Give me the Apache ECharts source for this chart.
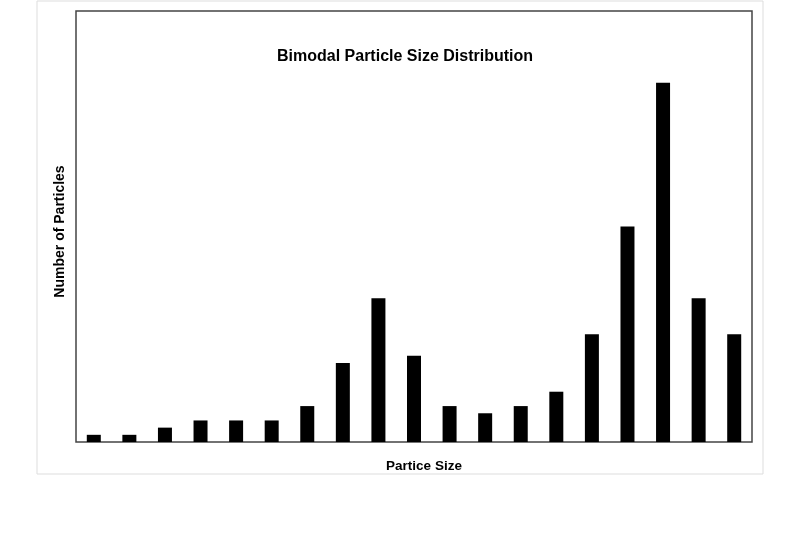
<!DOCTYPE html>
<html>
<head>
<meta charset="utf-8">
<script src="https://cdn.jsdelivr.net/npm/echarts@6/dist/echarts.min.js"></script>
<style>
  html, body { margin: 0; padding: 0; background: #fff; }
  #main { width: 800px; height: 533px; }
</style>
</head>
<body>
<div id="main"></div>
<script>
// particle size bins (no tick labels shown in the original)
var sizeBins = ['1', '2', '3', '4', '5', '6', '7', '8', '9', '10',
  '11', '12', '13', '14', '15', '16', '17', '18', '19']
// particle counts per bin
var particleCounts = [1, 1, 2, 3, 3, 3, 5, 11, 20, 12, 5, 4, 5, 7, 15, 30, 50, 20, 15]

var font = 'Liberation Sans, Arial, sans-serif'
var myChart = echarts.init(document.getElementById('main'))

var option = {
  animation: false,
  backgroundColor: '#fff',
  title: {
    text: 'Bimodal Particle Size Distribution',
    left: 272,
    top: 44,
    textStyle: { fontFamily: font, fontSize: 16, fontWeight: 'bold', color: '#000' }
  },
  graphic: [{
    type: 'rect',
    shape: { x: 37, y: 1, width: 726, height: 473 },
    style: { fill: 'none', stroke: '#dddddd', lineWidth: 1 },
    z: -1
  }],
  grid: {
    left: 76,
    top: 11,
    right: 48,
    bottom: 91,
    show: true,
    borderColor: '#444',
    borderWidth: 1.5
  },
  xAxis: {
    type: 'category',
    data: sizeBins,
    name: 'Partice Size',
    nameLocation: 'middle',
    nameGap: 17,
    nameTextStyle: { fontFamily: font, fontSize: 13.5, fontWeight: 'bold', color: '#000', padding: [0, 0, 0, 20] },
    axisLine: { show: false },
    axisTick: { show: false },
    axisLabel: { show: false },
    splitLine: { show: false }
  },
  yAxis: {
    type: 'value',
    min: 0,
    max: 60,
    name: 'Number of Particles',
    nameLocation: 'middle',
    nameGap: 9,
    nameTextStyle: { fontFamily: font, fontSize: 14, fontWeight: 'bold', color: '#000', padding: [0, 10, 0, 0] },
    axisLine: { show: false },
    axisTick: { show: false },
    axisLabel: { show: false },
    splitLine: { show: false }
  },
  series: [{
    name: 'count',
    type: 'bar',
    data: particleCounts,
    barWidth: 14,
    itemStyle: { color: '#000' }
  }]
}

myChart.setOption(option, true)
window.onresize = () => {
  myChart.resize()
}
</script>
</body>
</html>
